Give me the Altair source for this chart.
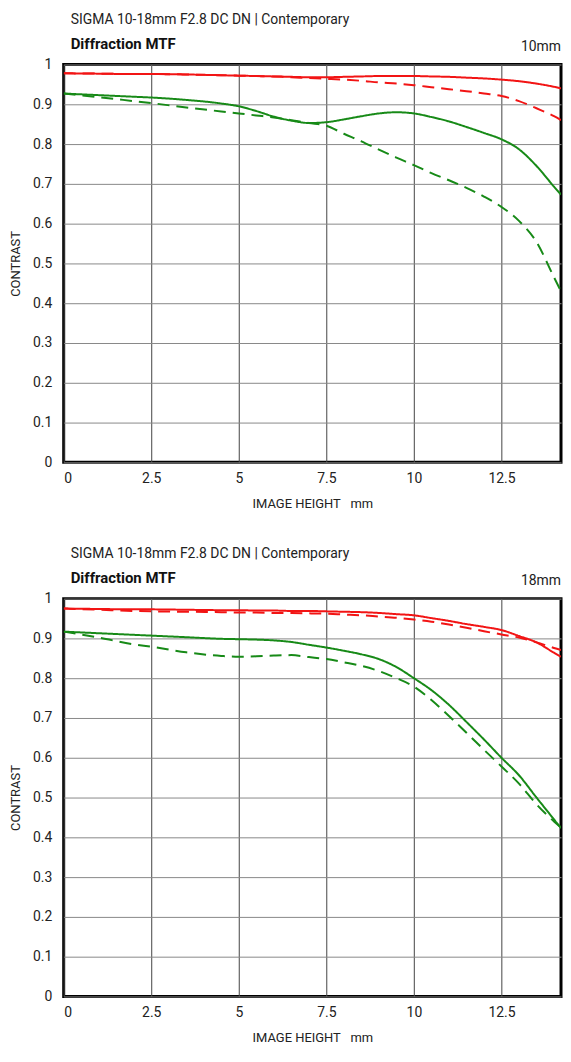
import altair as alt
import pandas as pd

FONT = "Roboto"

TITLE = "SIGMA 10-18mm F2.8 DC DN | Contemporary"
SUBTITLE = "Diffraction MTF"
focal_lengths = ["10mm", "18mm"]
x_title = "IMAGE HEIGHT\u00a0\u00a0\u00a0mm"
y_title = "CONTRAST"

x_ticks = [0, 2.5, 5, 7.5, 10, 12.5]
y_ticks = [0, 0.1, 0.2, 0.3, 0.4, 0.5, 0.6, 0.7, 0.8, 0.9, 1]

image_height = [0, 1, 2, 2.5, 3.5, 4.5, 5, 5.5, 6, 6.5, 7, 7.5, 8, 8.5, 9, 9.5,
                10, 10.5, 11, 11.5, 12, 12.5, 13, 13.5, 14, 14.2]

# 10mm
w_red_sag = [0.978, 0.977, 0.976, 0.976, 0.975, 0.973, 0.972, 0.971, 0.970, 0.969, 0.968, 0.968, 0.969,
             0.970, 0.971, 0.971, 0.971, 0.970, 0.969, 0.967, 0.965, 0.962, 0.958, 0.952, 0.944, 0.940]
w_red_mer = [0.978, 0.977, 0.976, 0.976, 0.975, 0.973, 0.972, 0.971, 0.970, 0.968, 0.966, 0.964, 0.962,
             0.959, 0.955, 0.952, 0.948, 0.943, 0.938, 0.933, 0.927, 0.921, 0.908, 0.890, 0.870, 0.860]
w_grn_sag = [0.927, 0.923, 0.919, 0.917, 0.911, 0.902, 0.895, 0.883, 0.869, 0.859, 0.853, 0.855, 0.862,
             0.870, 0.877, 0.880, 0.877, 0.868, 0.857, 0.843, 0.828, 0.812, 0.787, 0.745, 0.693, 0.673]
w_grn_mer = [0.927, 0.918, 0.908, 0.903, 0.892, 0.882, 0.877, 0.872, 0.867, 0.860, 0.853, 0.846, 0.826,
             0.807, 0.786, 0.766, 0.747, 0.727, 0.709, 0.690, 0.668, 0.642, 0.607, 0.554, 0.465, 0.430]

# 18mm
t_red_sag = [0.975, 0.974, 0.973, 0.973, 0.972, 0.971, 0.971, 0.970, 0.970, 0.969, 0.969, 0.968, 0.967,
             0.966, 0.964, 0.961, 0.958, 0.951, 0.944, 0.936, 0.929, 0.921, 0.906, 0.890, 0.864, 0.854]
t_red_mer = [0.975, 0.972, 0.969, 0.968, 0.967, 0.966, 0.965, 0.965, 0.964, 0.964, 0.963, 0.962, 0.960,
             0.958, 0.955, 0.952, 0.9475, 0.942, 0.935, 0.927, 0.918, 0.910, 0.902, 0.890, 0.876, 0.871]
t_grn_sag = [0.917, 0.913, 0.909, 0.907, 0.903, 0.899, 0.898, 0.897, 0.895, 0.891, 0.884, 0.877, 0.869,
             0.860, 0.848, 0.828, 0.800, 0.770, 0.733, 0.690, 0.646, 0.600, 0.556, 0.500, 0.445, 0.423]
t_grn_mer = [0.917, 0.902, 0.885, 0.879, 0.865, 0.856, 0.854, 0.855, 0.857, 0.858, 0.853, 0.848, 0.840,
             0.831, 0.818, 0.800, 0.779, 0.745, 0.705, 0.663, 0.620, 0.578, 0.535, 0.483, 0.440, 0.425]

freqs = ["10 lp/mm", "30 lp/mm"]
freq_colors = ["#f21414", "#178a17"]
directions = ["Sagittal", "Meridional"]
dashes = [[1, 0], [12, 7]]

PLOT_W = 500


def make_df(red_s, red_m, grn_s, grn_m):
    rows = []
    for freq, direction, vals in [(freqs[1], directions[0], grn_s), (freqs[1], directions[1], grn_m),
                                  (freqs[0], directions[1], red_m), (freqs[0], directions[0], red_s)]:
        for h, c in zip(image_height, vals):
            rows.append({"h": h, "c": c, "freq": freq, "dir": direction, "series": freq + direction})
    return pd.DataFrame(rows)


def panel(df, focal):
    lines = alt.Chart(df).mark_line(strokeWidth=2, interpolate="monotone", clip=True).encode(
        x=alt.X("h:Q", scale=alt.Scale(domain=[0, 14.2], nice=False, zero=False),
                axis=alt.Axis(values=x_ticks, labelExpr="'' + datum.value", title=x_title, grid=True,
                              gridColor="#444", gridWidth=1, labelPadding=9, titlePadding=12)),
        y=alt.Y("c:Q", scale=alt.Scale(domain=[0, 1], nice=False),
                axis=alt.Axis(values=y_ticks, labelExpr="'' + datum.value", title=y_title, grid=True,
                              gridColor="#888", gridWidth=1, labelPadding=12, titlePadding=10)),
        color=alt.Color("freq:N", scale=alt.Scale(domain=freqs, range=freq_colors), legend=None),
        strokeDash=alt.StrokeDash("dir:N", scale=alt.Scale(domain=directions, range=dashes), legend=None),
        detail="series:N",
    )
    heads = alt.Chart(pd.DataFrame({"t": [SUBTITLE]})).mark_text(
        align="left", baseline="middle", fontSize=15, font=FONT, fontWeight="bold", color="#111"
    ).encode(x=alt.value(7), y=alt.value(-21), text="t:N")
    label = alt.Chart(pd.DataFrame({"t": [focal]})).mark_text(
        align="right", baseline="middle", fontSize=14, font=FONT, color="#222"
    ).encode(x=alt.value(PLOT_W), y=alt.value(-18), text="t:N")
    return alt.layer(lines, heads, label).properties(
        width=PLOT_W, height=400,
        title=alt.TitleParams(text=TITLE, anchor="start", frame="group",
                              font=FONT, fontSize=14, fontWeight="normal", color="#222",
                              offset=10, dx=7),
    )


top = panel(make_df(w_red_sag, w_red_mer, w_grn_sag, w_grn_mer), focal_lengths[0])
bottom = panel(make_df(t_red_sag, t_red_mer, t_grn_sag, t_grn_mer), focal_lengths[1])

chart = alt.vconcat(top, bottom, spacing=33).properties(
    padding={"left": 0, "top": 0, "right": 0, "bottom": 0}, background="white"
).configure_view(stroke="black", strokeWidth=3).configure_axis(
    domain=False, ticks=False, labelFont=FONT, labelFontSize=14, labelColor="#222",
    titleFont=FONT, titleFontSize=13, titleFontWeight="normal", titleColor="#222"
)

chart.save("out.html", embed_options={"renderer": "svg", "actions": False})
